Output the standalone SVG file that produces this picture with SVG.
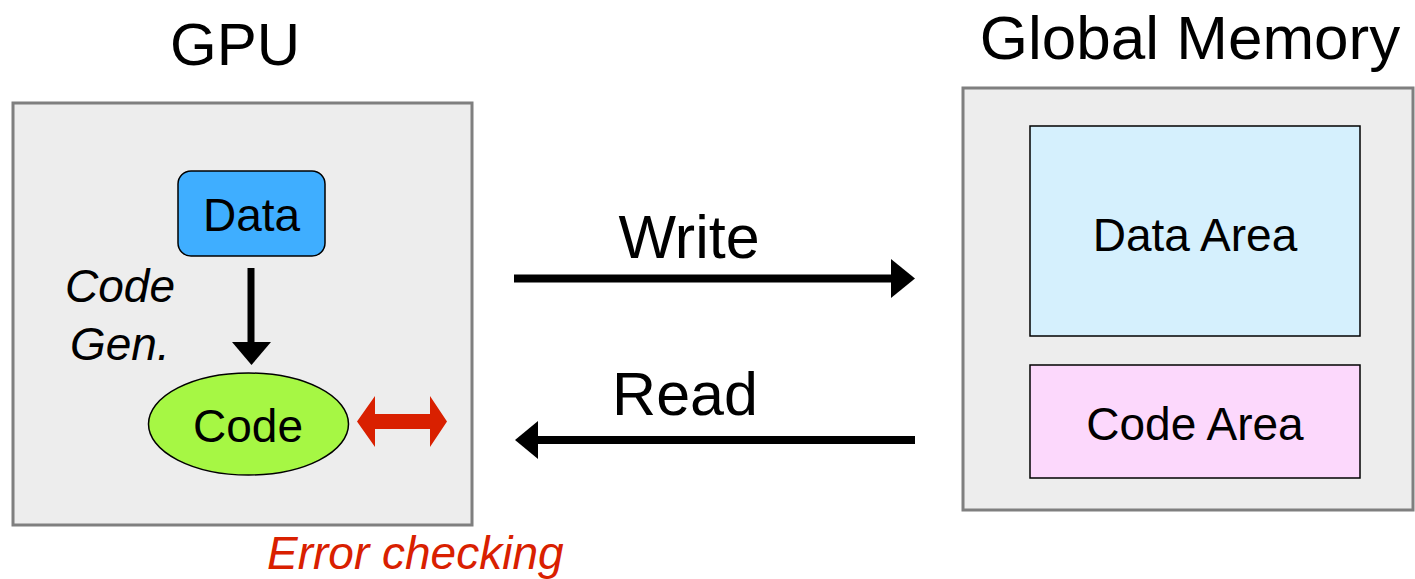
<svg xmlns="http://www.w3.org/2000/svg" width="1415" height="579" viewBox="0 0 1415 579">
<style>
text{font-family:"Liberation Sans",Arial,sans-serif;fill:#000}
.big{font-size:60px}
.mid{font-size:46px}
.it{font-style:italic}
.panel{fill:#EDEDED;stroke:#7F7F7F;stroke-width:3}
.thin{stroke:#000;stroke-width:1.5}
</style>
<rect width="1415" height="579" fill="#fff"/>
<g id="gpu">
<rect class="panel" x="13" y="103" width="459" height="422"/>
<text class="big" x="235" y="65" text-anchor="middle" font-size="59">GPU</text>
</g>
<g id="global-memory">
<rect class="panel" x="963" y="88" width="450" height="422"/>
<text class="big" x="1190" y="59" text-anchor="middle" style="font-size:62px">Global Memory</text>
</g>
<g id="data">
<rect x="178" y="171" width="147" height="85" rx="13" fill="#3FAEFF" class="thin"/>
<text class="mid" x="251.5" y="231" text-anchor="middle">Data</text>
</g>
<g id="code">
<ellipse cx="248.5" cy="424" rx="100" ry="51" fill="#A6F744" class="thin"/>
<text class="mid" x="248" y="442" text-anchor="middle">Code</text>
</g>
<g id="data-area">
<rect x="1030" y="126" width="330" height="210" fill="#D5F0FD" class="thin"/>
<text class="mid" x="1195" y="251" text-anchor="middle">Data Area</text>
</g>
<g id="code-area">
<rect x="1030" y="365" width="330" height="113" fill="#FCD8FC" class="thin"/>
<text class="mid" x="1195" y="440" text-anchor="middle">Code Area</text>
</g>
<g id="connectors">
<path d="M251 268 V343" stroke="#000" stroke-width="7" fill="none"/>
<polygon points="232,342 271,342 251.5,365" fill="#000"/>
<text class="mid it" x="65" y="302">Code</text>
<text class="mid it" x="70" y="360">Gen.</text>
<path d="M514 278.5 H893" stroke="#000" stroke-width="8" fill="none"/>
<polygon points="891,259 915,278.5 891,298" fill="#000"/>
<text class="big" x="689" y="258" text-anchor="middle" style="font-size:61px">Write</text>
<path d="M536 440 H915" stroke="#000" stroke-width="8" fill="none"/>
<polygon points="538,421 515,440 538,459" fill="#000"/>
<text class="big" x="685" y="415" text-anchor="middle" style="font-size:61px">Read</text>
<polygon points="357,421.5 375,396 375,414 430,414 430,396 447,421.5 430,447 430,429 375,429 375,447" fill="#D92000"/>
<text class="mid it" x="267" y="569" style="fill:#D92000">Error checking</text>
</g>
</svg>
